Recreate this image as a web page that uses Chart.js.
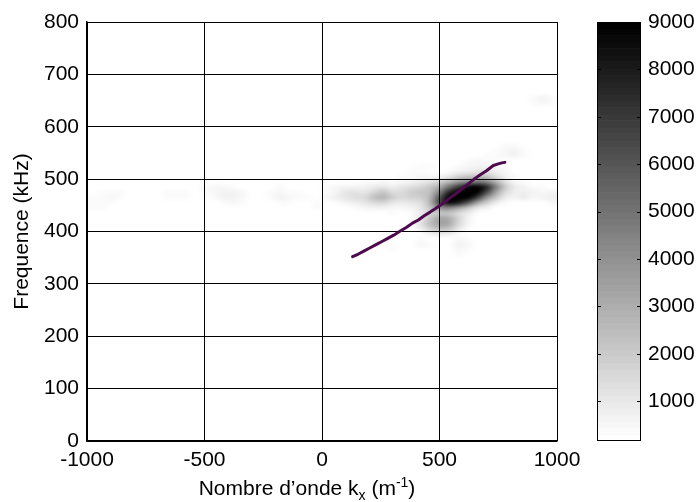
<!DOCTYPE html>
<html><head><meta charset="utf-8">
<script src="https://cdn.jsdelivr.net/npm/chart.js@4.4.0/dist/chart.umd.min.js"></script>
<style>
html,body{margin:0;padding:0;background:#fff;}
#wrap{position:relative;width:697px;height:502px;overflow:hidden;}
#main{position:absolute;left:0;top:0;}
#cbar{position:absolute;left:560px;top:0;}
</style></head><body>
<div id="wrap"><canvas id="main" width="697" height="502"></canvas><canvas id="cbar" width="137" height="502"></canvas></div>
<script>
// ---- data ----
const xTicks = [-1000, -500, 0, 500, 1000];
const yTicks = [0, 100, 200, 300, 400, 500, 600, 700, 800];
const cbTicks = [1000, 2000, 3000, 4000, 5000, 6000, 7000, 8000, 9000];
const cbMin = 160, cbMax = 9000;

// dispersion curve overlay
const lineKx = [130,155,180,205,230,255,280,305,333,360,385,410,435,460,480,500,525,550,575,600,625,650,672,700,729,750,765,778];
const lineF  = [352,357,363,369,375,381,387,393,401,408,416,422,430,437,443,449,457,466,474,483,492,501,508,516,526,529,531,532];

// spectral power cells (row frequency, kx centres, values)
const heatRowsF = [655,645,565,555,545,535,525,515,505,495,485,475,465,455,445,435,425,415,405,395,385,375,365,355];
const heatRowsKx = [
  [900,940,980],
  [900,940,980],
  [780,820],
  [740,780,820,860],
  [700,740,780,820,860],
  [620,660,700,740],
  [420,460,580,620,660,700,740,780],
  [380,420,540,580,620,660,700,740,780],
  [340,380,420,460,500,540,580,620,660,700,740,780,820],
  [180,220,260,300,340,380,420,460,500,540,580,620,660,700,740,780,820,860],
  [-500,-460,-420,-380,-180,20,60,100,140,180,220,260,300,340,380,420,460,500,540,580,620,660,700,740,780,820,860,900,940],
  [-940,-900,-860,-660,-620,-580,-500,-460,-420,-380,-340,-220,-180,-140,-100,20,60,100,140,180,220,260,300,340,380,420,460,500,540,580,620,660,700,740,780,820,860,900,940,980],
  [-980,-940,-900,-860,-660,-620,-580,-460,-420,-380,-340,-220,-180,-140,-100,-60,20,60,100,140,180,220,260,300,340,380,420,460,500,540,580,620,660,700,740,780,820,860,900,940,980],
  [-980,-940,-900,-420,-380,-340,-180,-140,-20,60,100,140,180,220,260,300,340,380,420,460,500,540,580,620,660,700,740,780,980],
  [-980,-940,-20,140,180,220,260,300,340,380,420,460,500,540,580,620,660,700],
  [300,380,420,460,500,540,580,620,660],
  [380,420,460,500,540,580,620],
  [380,420,460,500,540,580,620],
  [420,460,500,540,580,620],
  [300,460,500,540,580],
  [260,420,580,620],
  [260,300,420,460,580,620],
  [300,580,620],
  [580]
];
const heatRowsVal = [
  [400,600,300],
  [300,500,400],
  [300,400],
  [300,500,700,400],
  [300,400,500,600,300],
  [400,500,400,400],
  [300,400,400,500,600,700,500,300],
  [300,400,400,600,800,1000,1100,800,500],
  [300,400,500,500,700,1100,1700,2100,2300,2100,1400,700,300],
  [300,400,500,400,500,700,900,1200,1700,2700,3700,4400,4900,4400,2900,1300,500,300],
  [300,500,500,300,300,300,500,600,600,700,900,1100,800,1100,1400,1600,2100,3100,5000,7000,8500,9000,7500,4500,2000,900,600,400,300],
  [300,400,300,300,400,300,400,500,600,700,500,300,500,400,300,400,700,1000,1200,1100,1600,2100,1500,1500,1900,2100,2500,4500,7500,9000,9000,9000,6500,3400,1500,800,800,600,500,700],
  [300,300,500,400,300,400,300,400,600,700,500,300,600,500,300,300,500,800,1100,1300,1500,2300,2700,1900,1500,1700,1900,2700,6000,9000,9000,9000,7000,3900,2100,900,600,900,500,600,800],
  [300,400,300,400,500,400,400,300,300,400,600,800,1100,1500,1600,1100,900,1000,1400,2700,6500,8500,8000,6000,3400,1900,900,400,500],
  [300,300,300,400,500,700,700,500,500,600,1100,2100,3900,4400,3400,2100,1100,600],
  [300,400,900,1700,2100,2100,1500,900,400],
  [400,1100,2200,3200,3000,1800,700],
  [400,1200,2500,3400,3100,1600,600],
  [800,1800,2500,2200,1100,400],
  [300,600,900,800,400],
  [300,400,500,400],
  [300,400,500,300,600,500],
  [300,500,400],
  [300]
];

// ---- grid structure ----
const KX0 = -1000, CELL_KX = 40, NX = 50;
const F0 = 0, CELL_F = 10, NY = 80;
const LEVELS = 64;

function grayFor(v){
  let lv = Math.floor((v - cbMin) / (cbMax - cbMin) * LEVELS);
  lv = Math.max(0, Math.min(LEVELS - 1, lv));
  return Math.round(255 * (1 - lv / (LEVELS - 1)));
}

const FONT = "'Liberation Sans', Arial, Helvetica, sans-serif";
Chart.defaults.font.family = FONT;
Chart.defaults.font.size = 21;
Chart.defaults.color = '#000';
const plain = v => String(v);

const heatPlugin = {
  id: 'heat',
  beforeDraw(chart){
    const ctx = chart.ctx, xs = chart.scales.x, ys = chart.scales.y;
    const off = document.createElement('canvas');
    off.width = NX; off.height = NY;
    const octx = off.getContext('2d');
    const img = octx.createImageData(NX, NY);
    for (let k = 0; k < img.data.length; k += 4){
      img.data[k] = img.data[k+1] = img.data[k+2] = 255; img.data[k+3] = 255;
    }
    heatRowsF.forEach((f, r) => {
      const row = NY - 1 - Math.floor((f - F0) / CELL_F);
      heatRowsKx[r].forEach((kx, c) => {
        const col = Math.floor((kx - KX0) / CELL_KX);
        const g = grayFor(heatRowsVal[r][c]);
        const p = (row * NX + col) * 4;
        img.data[p] = img.data[p+1] = img.data[p+2] = g;
      });
    });
    octx.putImageData(img, 0, 0);
    const x0 = xs.getPixelForValue(KX0), x1 = xs.getPixelForValue(KX0 + NX * CELL_KX);
    const y0 = ys.getPixelForValue(F0 + NY * CELL_F), y1 = ys.getPixelForValue(F0);
    ctx.save();
    ctx.imageSmoothingEnabled = true;
    ctx.imageSmoothingQuality = 'high';
    ctx.drawImage(off, x0, y0, x1 - x0, y1 - y0);
    ctx.restore();
  }
};

const xTitlePlugin = {
  id: 'xTitle',
  afterDraw(chart){
    const ctx = chart.ctx, ca = chart.chartArea;
    const parts = [
      {t: 'Nombre d\u2019onde k', s: 21, dy: 0},
      {t: 'x', s: 14, dy: 5},
      {t: ' (m', s: 21, dy: 0},
      {t: '-1', s: 14, dy: -8},
      {t: ')', s: 21, dy: 0}
    ];
    ctx.save();
    ctx.fillStyle = '#000';
    ctx.textBaseline = 'alphabetic';
    ctx.textAlign = 'left';
    let total = 0;
    parts.forEach(p => { ctx.font = p.s + 'px ' + FONT; p.w = ctx.measureText(p.t).width; total += p.w; });
    let x = (ca.left + ca.right) / 2 - 15 - total / 2;
    const base = 495;
    parts.forEach(p => { ctx.font = p.s + 'px ' + FONT; ctx.fillText(p.t, x, base + p.dy); x += p.w; });
    ctx.restore();
  }
};

new Chart(document.getElementById('main'), {
  type: 'scatter',
  data: {
    datasets: [{
      data: lineKx.map((x, i) => ({x: x, y: lineF[i]})),
      showLine: true,
      borderColor: '#4d0a4d',
      borderWidth: 3,
      pointRadius: 0,
      borderCapStyle: 'round',
      borderJoinStyle: 'round',
      tension: 0
    }]
  },
  options: {
    responsive: false,
    animation: false,
    devicePixelRatio: 1,
    layout: {padding: {left: 0, right: 140, top: 22, bottom: 0}},
    plugins: {legend: {display: false}, tooltip: {enabled: false}},
    scales: {
      x: {
        type: 'linear', min: -1000, max: 1000,
        afterBuildTicks: s => { s.ticks = xTicks.map(v => ({value: v})); },
        afterFit: s => { s.height = 61; },
        grid: {color: '#000', lineWidth: 1, drawTicks: false},
        border: {color: '#000', width: 1.5},
        ticks: {padding: 7, maxRotation: 0, font: {size: 21}, callback: plain}
      },
      y: {
        type: 'linear', min: 0, max: 800,
        afterBuildTicks: s => { s.ticks = yTicks.map(v => ({value: v})); },
        afterFit: s => { s.width = 87; },
        grid: {color: '#000', lineWidth: 1, drawTicks: false},
        border: {color: '#000', width: 1.5},
        ticks: {padding: 8, font: {size: 21}, callback: plain},
        title: {display: true, text: 'Frequence (kHz)', font: {size: 21}, padding: {top: 10, bottom: 0}}
      }
    }
  },
  plugins: [heatPlugin, xTitlePlugin]
});

const cbarPlugin = {
  id: 'cbar',
  beforeDatasetsDraw(chart){
    const ctx = chart.ctx, ca = chart.chartArea, ys = chart.scales.y;
    ctx.save();
    const step = (cbMax - cbMin) / LEVELS;
    for (let k = 0; k < LEVELS; k++){
      const yLo = ys.getPixelForValue(cbMin + k * step);
      const yHi = ys.getPixelForValue(cbMin + (k + 1) * step);
      const g = Math.round(255 * (1 - k / (LEVELS - 1)));
      ctx.fillStyle = 'rgb(' + g + ',' + g + ',' + g + ')';
      ctx.fillRect(ca.left, yHi, ca.right - ca.left, yLo - yHi + 0.6);
    }
    ctx.strokeStyle = '#000';
    ctx.lineWidth = 1;
    ctx.strokeRect(Math.round(ca.left) + 0.5, Math.round(ca.top) + 0.5, Math.round(ca.right - ca.left) - 1, Math.round(ca.bottom - ca.top) - 1);
    cbTicks.forEach(v => {
      const y = Math.round(ys.getPixelForValue(v)) + 0.5;
      ctx.beginPath();
      ctx.moveTo(ca.left, y); ctx.lineTo(ca.left + 4, y);
      ctx.moveTo(ca.right, y); ctx.lineTo(ca.right - 4, y);
      ctx.stroke();
    });
    ctx.restore();
  }
};

new Chart(document.getElementById('cbar'), {
  type: 'scatter',
  data: {datasets: [{data: []}]},
  options: {
    responsive: false,
    animation: false,
    devicePixelRatio: 1,
    layout: {padding: {left: 37, right: 0, top: 22, bottom: 61}},
    plugins: {legend: {display: false}, tooltip: {enabled: false}},
    scales: {
      x: {display: false, min: 0, max: 1},
      y: {
        position: 'right', min: cbMin, max: cbMax,
        afterBuildTicks: s => { s.ticks = cbTicks.map(v => ({value: v})); },
        afterFit: s => { s.width = 56; },
        grid: {display: false, drawTicks: false},
        border: {display: false},
        ticks: {padding: 7, font: {size: 21}, callback: plain}
      }
    }
  },
  plugins: [cbarPlugin]
});
</script>
</body></html>
